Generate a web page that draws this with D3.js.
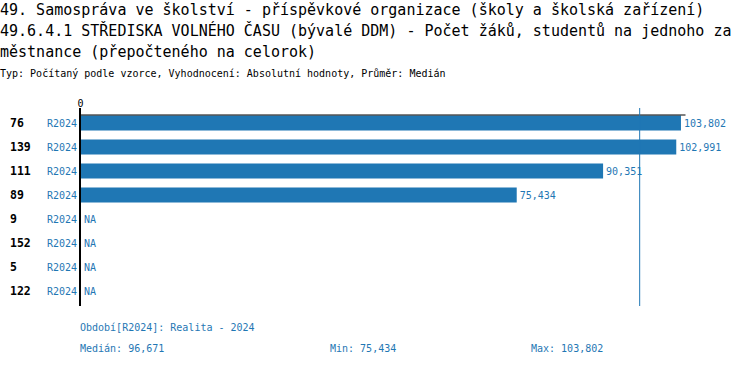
<!DOCTYPE html>
<html>
<head>
<meta charset="utf-8">
<script src="https://cdn.jsdelivr.net/npm/d3@7"></script>
<style>
  body { margin: 0; background: #fff; }
  text { font-family: "DejaVu Sans Mono", monospace; }
</style>
</head>
<body>
<div id="chart"></div>
<script>
// data
const categories = ['76', '139', '111', '89', '9', '152', '5', '122'];
const values = [103802, 102991, 90351, 75434, null, null, null, null];
const periods = ['R2024', 'R2024', 'R2024', 'R2024', 'R2024', 'R2024', 'R2024', 'R2024'];
const titleLines = [
    '49. Samospráva ve školství - příspěvkové organizace (školy a školská zařízení)',
    '49.6.4.1 STŘEDISKA VOLNÉHO ČASU (bývalé DDM) - Počet žáků, studentů na jednoho za',
    'městnance (přepočteného na celorok)'
];
const subtitle = 'Typ: Počítaný podle vzorce, Vyhodnocení: Absolutní hodnoty, Průměr: Medián';
const periodNote = 'Období[R2024]: Realita - 2024';

const width = 750, height = 366;
const blue = '#1f77b4';
const fmt = d3.format(',');

const svg = d3.select('#chart').append('svg')
    .attr('width', width)
    .attr('height', height);

// title + subtitle
svg.selectAll('.title')
    .data(titleLines)
    .enter().append('text')
    .attr('class', 'title')
    .attr('x', 0)
    .attr('y', (d, i) => 15 + i * 21)
    .style('font-size', '15px')
    .text(d => d);

svg.append('text')
    .attr('x', 0)
    .attr('y', 77)
    .style('font-size', '10px')
    .text(subtitle);

// scales
const x = d3.scaleLinear()
    .domain([0, 104500])
    .range([80, 685]);

const y = d3.scaleBand()
    .domain(categories)
    .range([111, 303])
    .paddingInner(0.375)
    .paddingOuter(0.1875);

const rows = categories.map((c, i) => ({ cat: c, value: values[i], period: periods[i] }));

// bars
svg.selectAll('.bar')
    .data(rows.filter(d => d.value != null))
    .enter().append('rect')
    .attr('class', 'bar')
    .attr('x', x(0))
    .attr('y', d => y(d.cat))
    .attr('width', d => x(d.value) - x(0))
    .attr('height', y.bandwidth())
    .style('fill', blue);

// value labels
svg.selectAll('.val')
    .data(rows)
    .enter().append('text')
    .attr('class', 'val')
    .attr('x', d => d.value != null ? x(d.value) + 3 : x(0) + 4)
    .attr('y', d => y(d.cat) + y.bandwidth() / 2)
    .attr('dy', '0.35em')
    .style('font-size', '10px')
    .style('fill', blue)
    .text(d => d.value != null ? fmt(d.value) : 'NA');

// category labels
svg.selectAll('.cat')
    .data(rows)
    .enter().append('text')
    .attr('class', 'cat')
    .attr('x', 10)
    .attr('y', d => y(d.cat) + y.bandwidth() / 2)
    .attr('dy', '0.35em')
    .style('font-size', '11.5px')
    .style('font-weight', 'bold')
    .text(d => d.cat);

svg.selectAll('.per')
    .data(rows)
    .enter().append('text')
    .attr('class', 'per')
    .attr('x', 47)
    .attr('y', d => y(d.cat) + y.bandwidth() / 2)
    .attr('dy', '0.35em')
    .style('font-size', '10px')
    .style('fill', blue)
    .text(d => d.period);

// top axis
const axis = svg.append('g')
    .attr('transform', 'translate(0,114.5)')
    .call(d3.axisTop(x).tickValues([0]).tickSize(5).tickSizeOuter(0));
axis.select('.domain').attr('stroke', '#000');
axis.selectAll('text').style('font-family', '"DejaVu Sans Mono", monospace').style('font-size', '10px');

// left axis line
svg.append('line')
    .attr('x1', x(0)).attr('x2', x(0))
    .attr('y1', 108).attr('y2', 306)
    .attr('stroke', '#000')
    .attr('stroke-width', 2);

// median line
const med = d3.median(values.filter(v => v != null));
const minV = d3.min(values);
const maxV = d3.max(values);

svg.append('line')
    .attr('x1', x(med)).attr('x2', x(med))
    .attr('y1', 108).attr('y2', 306)
    .attr('stroke', blue)
    .attr('stroke-width', 1);

// footer
svg.append('text')
    .attr('x', 80).attr('y', 331)
    .style('font-size', '10px').style('fill', blue)
    .text(periodNote);

svg.append('text')
    .attr('x', 80).attr('y', 352)
    .style('font-size', '10px').style('fill', blue)
    .text('Medián: ' + fmt(med));

svg.append('text')
    .attr('x', 330).attr('y', 352)
    .style('font-size', '10px').style('fill', blue)
    .text('Min: ' + fmt(minV));

svg.append('text')
    .attr('x', 531).attr('y', 352)
    .style('font-size', '10px').style('fill', blue)
    .text('Max: ' + fmt(maxV));
</script>
</body>
</html>
